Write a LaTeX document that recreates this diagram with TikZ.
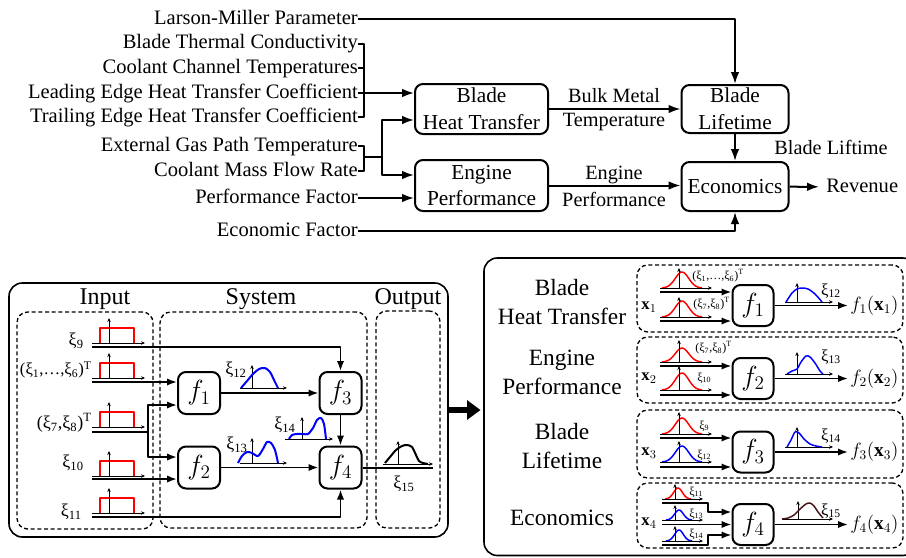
\documentclass[tikz,border=0pt]{standalone}
\usepackage{fontspec}
\setmainfont{Liberation Serif}
\usetikzlibrary{arrows.meta,fit,calc}
\definecolor{dbrown}{RGB}{70,20,20}
\newcommand\xs[1]{ξ\textsubscript{#1}}
\newcommand\fsz[2]{\fontsize{#1}{#2}\selectfont}
\newcommand\gcurve[5]{\draw[#5] plot[domain=-#3:#3,samples=31,smooth] ({#1+\x},{#2-#4*exp(-4.5*(\x)*(\x)/(#3*#3))});}
\newcommand\axs[5]{\draw[axisln] (#1,#3) -- (#2,#3); \draw[axisln] (#4,#3) -- (#4,#5);}
\newcommand\rplot[2]{%
 \draw[red,line width=1.5pt] ({#1-9},#2) -- ({#1-9},{#2-15}) -- ({#1+25},{#2-15}) -- ({#1+25},#2);
 \draw[axisln] ({#1-17},#2) -- ({#1+36},#2);
 \draw[axisln] (#1,#2) -- (#1,{#2-25});}
\begin{document}
\begin{tikzpicture}[x=0.75pt,y=-0.75pt,line join=round,
 ln/.style={line width=1.5pt},
 arr/.style={line width=1.5pt,-{Latex[length=9pt,width=6.5pt]}},
 sarr/.style={line width=1.4pt,-{Latex[length=7.5pt,width=5.5pt]}},
 axisln/.style={line width=0.6pt,-{Stealth[length=3pt,width=2.6pt]}},
 blk/.style={draw,line width=1.5pt,rounded corners=6pt,align=center,inner sep=0pt,font=\fsz{16}{20}},
 lab/.style={anchor=east,inner sep=0pt,text height=8pt,text depth=0pt,font=\fsz{15.4}{18}},
 txt/.style={inner sep=0pt,font=\fsz{15.2}{18}},
 obox/.style={draw,line width=1.2pt,rounded corners=10pt,inner sep=0pt},
 dbox/.style={draw,line width=1pt,dash pattern=on 3pt off 2pt,rounded corners=8pt,inner sep=0pt},
 fnbox/.style={draw,line width=1.5pt,rounded corners=6pt,minimum size=31.5pt,inner sep=0pt,font=\fsz{21}{24}},
 fnboxb/.style={draw,line width=1.5pt,rounded corners=6pt,minimum size=30.75pt,inner sep=0pt,font=\fsz{21}{24}},
 hdr/.style={inner sep=0pt,anchor=base,font=\fsz{18}{22}},
 xl/.style={inner sep=0pt,font=\fsz{13.5}{15}},
 sx/.style={inner sep=0pt,anchor=west,font=\fsz{9}{11}},
 ox/.style={inner sep=0pt,font=\fsz{12.5}{14}},
 xb/.style={inner sep=0pt,font=\fsz{12.5}{14}},
 rl/.style={inner sep=0pt,align=center,font=\fsz{17.5}{21.75}},
 fy/.style={inner xsep=1.5pt,inner ysep=0pt,anchor=west,font=\fsz{14.5}{17}},
 crv/.style={line width=1.5pt},
 gcrv/.style={line width=1.1pt},
]
\useasboundingbox (0,0) rectangle (906,557);

% ---------------- top ----------------
\node[lab] (lmp) at (358,19) {Larson-Miller Parameter};
\node[lab] (btc) at (358,43.5) {Blade Thermal Conductivity};
\node[lab] (cct) at (358,68) {Coolant Channel Temperatures};
\node[lab] (leh) at (358,93) {Leading Edge Heat Transfer Coefficient};
\node[lab] (teh) at (358,117) {Trailing Edge Heat Transfer Coefficient};
\node[lab] (egp) at (358,146) {External Gas Path Temperature};
\node[lab] (cmf) at (358,171) {Coolant Mass Flow Rate};
\node[lab] (pf) at (358,198) {Performance Factor};
\node[lab] (ef) at (358,231) {Economic Factor};

\node[blk,minimum width=99.75pt,minimum height=37.5pt] (bht) at (481.5,109) {Blade\\Heat Transfer};
\node[blk,minimum width=99.75pt,minimum height=38.25pt] (ep) at (481.5,185.5) {Engine\\Performance};
\node[blk,minimum width=80.25pt,minimum height=36pt] (bl) at (735,109) {Blade\\Lifetime};
\node[blk,minimum width=80.25pt,minimum height=36.75pt] (eco) at (735,186.5) {Economics};

\coordinate (bx) at (364,0);
\draw[ln] (btc.east) -| (bx |- teh.east) -- (teh.east);
\draw[ln] (cct.east) -- (cct.east -| bx);
\draw[arr] (leh.east) -- (leh.east -| bht.west);
\draw[ln] (egp.east) -| (bx |- cmf.east) -- (cmf.east);
\coordinate (j1) at (364,157);
\coordinate (j2) at (382,157);
\draw[ln] (j1) -- (j2);
\draw[arr] (j2) |- ($(bht.west)+(0,11)$);
\draw[arr] (j2) |- ($(ep.west)+(0,-10.5)$);
\draw[arr] (pf.east) -- (pf.east -| ep.west);
\draw[arr] (lmp.east) -| (bl.north);
\draw[arr] (ef.east) -| (eco.south);
\draw[arr] (bht.east) -- (bht.east -| bl.west);
\node[txt] (bm1) at (614,96) {Bulk Metal};
\node[txt] (bm2) at (614,122) {Temperature};
\draw[arr] (ep.east) -- (ep.east -| eco.west);
\node[txt] (en1) at (614,175) {Engine};
\node[txt] (en2) at (614,199) {Performance};
\draw[arr] (bl) -- (eco);
\node[txt] (blt) at (831,147) {Blade Liftime};
\node[lab,anchor=west,inner xsep=5.25pt] (rev) at (819,187) {Revenue};
\draw[arr] (eco) -- (rev);

% ---------------- bottom left ----------------
\node[obox,fit={(9,283) (448,537)}] (lbox) {};
\node[dbox,fit={(17,312) (153,529)}] (inb) {};
\node[dbox,fit={(160,312) (367,528)}] (sysb) {};
\node[dbox,fit={(376,311) (440,528)}] (outb) {};
\node[hdr] (hin) at (105,304) {Input};
\node[hdr] (hsys) at (261,304) {System};
\node[hdr] (hout) at (408,304) {Output};

\rplot{109}{343}
\rplot{109}{378}
\rplot{109}{427}
\rplot{109}{476}
\rplot{109}{513}
\node[xl,anchor=east] (l9) at (84,341) {\xs{9}};
\node[xl,anchor=east,font=\fsz{12.5}{15}] (l16) at (92,370) {(\xs{1},…,\xs{6})\textsuperscript{T}};
\node[xl,anchor=east] (l78) at (92,423) {(\xs{7},\xs{8})\textsuperscript{T}};
\node[xl,anchor=east] (l10) at (84,463) {\xs{10}};
\node[xl,anchor=east] (l11) at (82,512) {\xs{11}};

\node[fnbox] (f1) at (199,393) {$f_1$};
\node[fnbox] (f2) at (199,467.5) {$f_2$};
\node[fnbox] (f3) at (340.5,393) {$f_3$};
\node[fnbox] (f4) at (340.5,467.5) {$f_4$};

\coordinate (s9) at (92,347);
\coordinate (s16) at (92,382);
\coordinate (s78) at (92,432);
\coordinate (j78) at (148,432);
\coordinate (s10) at (92,479);
\coordinate (s11) at (92,517);
\coordinate (o15) at (433,467.5);
\draw[sarr] (s9) -| (f3.north);
\draw[sarr] (s16) -- (s16 -| f1.west);
\draw[ln] (s78) -- (j78);
\draw[sarr] (j78) |- ($(f1.west)+(0,12)$);
\draw[sarr] (j78) |- ($(f2.west)+(0,-10.5)$);
\draw[sarr] (s10) -- (s10 -| f2.west);
\draw[sarr] (s11) -| (f4.south);
\draw[sarr] (f1) -- (f3);
\draw[sarr] (f2) -- (f4);
\draw[sarr] (f3) -- (f4);
\draw[ln] (f4.east) -- (o15);

\axs{240}{287}{388}{252}{365}
\draw[blue,crv] plot[smooth] coordinates {(241,388) (247,381) (253,374) (259,369) (265,368) (270,372) (274,380) (278,388)};
\node[xl] (l12) at (236,370) {\xs{12}};
\axs{240}{287}{463}{252}{438}
\draw[blue,crv] plot[smooth] coordinates {(238,463) (242,456) (247,452) (252,453) (258,456) (263,449) (267,442) (271,443) (275,450) (278,463)};
\node[xl] (l13) at (237,445) {\xs{13}};
\axs{285}{333}{439}{302}{417}
\draw[blue,crv] plot[smooth] coordinates {(289,439) (292,435) (297,434) (303,434) (308,434) (313,428) (317,420) (321,418) (324,424) (326,439)};
\node[xl] (l14) at (285,425) {\xs{14}};
\axs{383}{433}{464}{398}{441}
\draw[black,crv] plot[smooth] coordinates {(385,463) (390,457) (396,450) (402,446) (407,445) (412,447) (416,455) (419,461) (423,463) (428,464)};
\node[xl] (l15) at (404,484) {\xs{15}};

% ---------------- right panel ----------------
\node[obox,fit={(484,258) (916,555.5)}] (rbox) {};
\draw[line width=4.5pt,-{Triangle[length=10pt,width=14pt]},shorten >=2pt] (lbox.east) -- (lbox.east -| rbox.west);
\node[dbox,fit={(637,265) (903,332)}] (r1) {};
\node[dbox,fit={(637,337) (903,403)}] (r2) {};
\node[dbox,fit={(637,410) (903,478)}] (r3) {};
\node[dbox,fit={(637,483) (903,548)}] (r4) {};
\node[rl] (t1) at (562,302) {Blade\\Heat Transfer};
\node[rl] (t2) at (562,372) {Engine\\Performance};
\node[rl] (t3) at (562,446) {Blade\\Lifetime};
\node[rl] (t4) at (562,518) {Economics};

% row 1
\node[fnboxb] (g1) at (753,305.5) {$f_1$};
\gcurve{682}{288}{20}{16}{red,gcrv}
\axs{660}{712}{288}{679}{268}
\gcurve{682}{317}{20}{16}{red,gcrv}
\axs{660}{712}{317}{679}{297}
\coordinate (a11) at (660,292);
\coordinate (a12) at (660,321);
\draw[sarr] (a11) -- (a11 -| g1.west);
\draw[sarr] (a12) -- (a12 -| g1.west);
\node[sx] (k11) at (692,276) {(\xs{1},…,\xs{6})\textsuperscript{T}};
\node[sx] (k12) at (693,304) {(\xs{7},\xs{8})\textsuperscript{T}};
\node[xb] (x1) at (649,307) {$\mathbf{x}_1$};
\axs{785}{833}{302}{797}{283}
\draw[blue,gcrv] plot[smooth] coordinates {(786,302) (792,293) (797,289) (802,288) (808,289) (815,294) (822,302)};
\node[ox] (m1) at (831,291) {\xs{12}};
\node[fy] (y1) at (848,305.5) {$f_1(\mathbf{x}_1)$};
\draw[sarr] (g1) -- (y1);

% row 2
\node[fnboxb] (g2) at (753,378.5) {$f_2$};
\gcurve{682}{362}{20}{14}{red,gcrv}
\axs{660}{712}{362}{679}{340}
\gcurve{682}{390}{20}{17}{red,gcrv}
\axs{660}{712}{390}{679}{366}
\coordinate (a21) at (660,366);
\coordinate (a22) at (660,395);
\draw[sarr] (a21) -- (a21 -| g2.west);
\draw[sarr] (a22) -- (a22 -| g2.west);
\node[sx] (k21) at (695,348) {(\xs{7},\xs{8})\textsuperscript{T}};
\node[sx] (k22) at (697,378) {\xs{10}};
\node[xb] (x2) at (649,378) {$\mathbf{x}_2$};
\axs{785}{833}{374}{797}{352}
\draw[blue,gcrv] plot[smooth] coordinates {(787,374) (792,371) (797,369) (801,362) (806,356) (810,357) (815,363) (820,371) (823,374)};
\node[ox] (m2) at (831,357) {\xs{13}};
\node[fy] (y2) at (848,378.5) {$f_2(\mathbf{x}_2)$};
\draw[sarr] (g2) -- (y2);

% row 3
\node[fnboxb] (g3) at (753,452) {$f_3$};
\gcurve{682}{434}{20}{16}{red,gcrv}
\axs{660}{712}{434}{679}{412}
\gcurve{682}{462}{20}{16}{blue,gcrv}
\axs{660}{712}{462}{679}{441}
\coordinate (a31) at (660,438);
\coordinate (a32) at (660,467);
\draw[sarr] (a31) -- (a31 -| g3.west);
\draw[sarr] (a32) -- (a32 -| g3.west);
\node[sx] (k31) at (699,426) {\xs{9}};
\node[sx] (k32) at (697,455) {\xs{12}};
\node[xb] (x3) at (649,453) {$\mathbf{x}_3$};
\axs{785}{833}{447}{797}{427}
\draw[blue,gcrv] plot[smooth] coordinates {(787,447) (791,440) (795,432) (799,433) (804,439) (810,444) (816,446) (822,447)};
\node[ox] (m3) at (831,436) {\xs{14}};
\node[fy] (y3) at (848,452) {$f_3(\mathbf{x}_3)$};
\draw[sarr] (g3) -- (y3);

% row 4
\node[fnboxb] (g4) at (753,524.5) {$f_4$};
\gcurve{678}{499}{13}{11}{red,gcrv}
\axs{662}{703}{499}{675}{484}
\gcurve{679}{520}{13}{10}{blue,gcrv}
\axs{662}{703}{520}{675}{505}
\gcurve{679}{541}{13}{11}{blue,gcrv}
\axs{662}{703}{541}{675}{526}
\coordinate (a41) at (662,503);
\coordinate (b41) at (708,503);
\coordinate (a42) at (662,524.5);
\coordinate (a43) at (662,545);
\coordinate (b43) at (708,545);
\draw[sarr] (a41) -- (b41) |- ($(g4.west)+(0,-12.5)$);
\draw[sarr] (a42) -- (a42 -| g4.west);
\draw[sarr] (a43) -- (b43) |- ($(g4.west)+(0,10.5)$);
\node[sx] (k41) at (689,492) {\xs{11}};
\node[sx] (k42) at (689,514) {\xs{13}};
\node[sx] (k43) at (689,534) {\xs{14}};
\node[xb] (x4) at (649,523) {$\mathbf{x}_4$};
\axs{782}{833}{519}{798}{501}
\draw[dbrown,gcrv] plot[smooth] coordinates {(782,519) (788,518) (794,515) (800,509) (806,504) (810,503) (814,506) (818,512) (823,518)};
\node[ox] (m4) at (831,511) {\xs{15}};
\node[fy] (y4) at (848,524.5) {$f_4(\mathbf{x}_4)$};
\draw[sarr] (g4) -- (y4);
\end{tikzpicture}
\end{document}
